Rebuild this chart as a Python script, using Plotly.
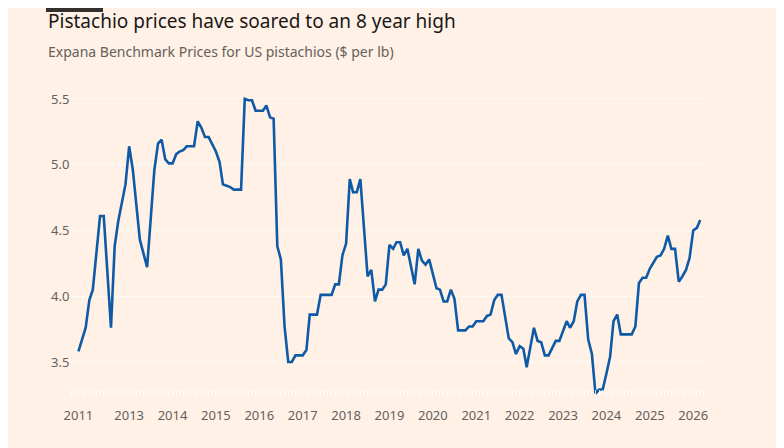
import plotly.graph_objects as go

months = [
    "2011-11", "2012-01", "2012-02", "2012-03", "2012-05", "2012-06", "2012-08", "2012-09", "2012-10", "2012-12",
    "2013-01", "2013-02", "2013-04", "2013-06", "2013-08", "2013-09", "2013-10", "2013-11", "2013-12",
    "2014-01", "2014-02", "2014-03", "2014-04", "2014-05", "2014-07", "2014-08", "2014-09", "2014-10", "2014-11", "2014-12",
    "2015-01", "2015-02", "2015-03", "2015-04", "2015-05", "2015-06", "2015-08", "2015-09", "2015-10", "2015-11", "2015-12",
    "2016-02", "2016-03", "2016-04", "2016-05", "2016-06", "2016-07", "2016-08", "2016-09", "2016-10", "2016-11",
    "2017-01", "2017-02", "2017-03", "2017-05", "2017-06", "2017-09", "2017-10", "2017-11", "2017-12",
    "2018-01", "2018-02", "2018-03", "2018-04", "2018-05", "2018-07", "2018-08", "2018-09", "2018-10", "2018-11", "2018-12",
    "2019-01", "2019-02", "2019-03", "2019-04", "2019-05", "2019-06", "2019-08", "2019-09", "2019-10", "2019-11", "2019-12",
    "2020-02", "2020-03", "2020-04", "2020-05", "2020-06", "2020-07", "2020-08", "2020-10", "2020-11", "2020-12",
    "2021-01", "2021-03", "2021-04", "2021-05", "2021-06", "2021-07", "2021-08", "2021-10", "2021-11", "2021-12",
    "2022-01", "2022-02", "2022-03", "2022-05", "2022-06", "2022-07", "2022-08", "2022-09", "2022-11", "2022-12",
    "2023-02", "2023-03", "2023-04", "2023-05", "2023-06", "2023-07", "2023-08", "2023-09", "2023-10", "2023-11", "2023-12",
    "2024-01", "2024-02", "2024-03", "2024-04", "2024-05", "2024-08", "2024-09", "2024-10", "2024-11", "2024-12",
    "2025-01", "2025-03", "2025-04", "2025-05", "2025-06", "2025-07", "2025-08", "2025-09", "2025-10", "2025-11", "2025-12",
    "2026-01", "2026-02", "2026-03",
]
prices = [
    3.58, 3.76, 3.97, 4.05, 4.61, 4.61, 3.76, 4.38, 4.57, 4.85,
    5.14, 4.96, 4.43, 4.22, 4.96, 5.16, 5.19, 5.04, 5.01,
    5.01, 5.08, 5.10, 5.11, 5.14, 5.14, 5.33, 5.28, 5.21, 5.21, 5.16,
    5.10, 5.02, 4.85, 4.84, 4.83, 4.81, 4.81, 5.50, 5.49, 5.49, 5.41,
    5.41, 5.45, 5.36, 5.35, 4.38, 4.28, 3.77, 3.50, 3.50, 3.55,
    3.55, 3.59, 3.86, 3.86, 4.01, 4.01, 4.09, 4.09, 4.31,
    4.40, 4.89, 4.79, 4.79, 4.89, 4.15, 4.20, 3.96, 4.05, 4.05, 4.09,
    4.39, 4.36, 4.41, 4.41, 4.31, 4.36, 4.09, 4.36, 4.27, 4.24, 4.28,
    4.06, 4.05, 3.96, 3.96, 4.05, 3.98, 3.74, 3.74, 3.77, 3.77,
    3.81, 3.81, 3.85, 3.86, 3.97, 4.01, 4.01, 3.68, 3.65, 3.56,
    3.62, 3.60, 3.46, 3.76, 3.66, 3.65, 3.55, 3.55, 3.66, 3.66,
    3.81, 3.76, 3.81, 3.96, 4.01, 4.01, 3.67, 3.56, 3.26, 3.29, 3.29,
    3.41, 3.54, 3.81, 3.86, 3.71, 3.71, 3.77, 4.10, 4.14, 4.14,
    4.21, 4.30, 4.31, 4.36, 4.46, 4.36, 4.36, 4.11, 4.15, 4.20, 4.29,
    4.50, 4.52, 4.58,
]

tick_dates = ["2011-11-01"] + [f"{y}-01-01" for y in range(2013, 2027)]
tick_labels = ["2011"] + [str(y) for y in range(2013, 2027)]
y_ticks = [3.5, 4.0, 4.5, 5.0, 5.5]
y_labels = ["3.5", "4.0", "4.5", "5.0", "5.5"]

BG = "#FFF1E5"
GREY = "#66605C"

fig = go.Figure()
fig.add_trace(go.Scatter(
    x=[m + "-01" for m in months], y=prices, mode="lines",
    line=dict(color="#0F5AA6", width=2.6), hoverinfo="skip", showlegend=False,
))

fig.update_layout(
    width=784, height=448,
    paper_bgcolor=BG, plot_bgcolor=BG,
    margin=dict(l=38, r=87, t=77, b=60),
    font=dict(family="Noto Sans, sans-serif", color=GREY, size=13),
    xaxis=dict(
        type="date", range=["2011-02-01", "2026-04-10"],
        tickvals=tick_dates, ticktext=tick_labels,
        showgrid=False, zeroline=False, showline=False,
        ticks="", ticklabelstandoff=10,
        tickfont=dict(size=13, color=GREY),
        minor=dict(dtick="M1", ticks="inside", ticklen=6, tickcolor="rgba(255,255,255,0.8)",
                   tick0="2011-11-01", showgrid=False),
    ),
    yaxis=dict(
        range=[3.241, 5.606], tickvals=y_ticks, ticktext=y_labels,
        showgrid=True, gridcolor="rgba(255,255,255,0.55)", gridwidth=1,
        zeroline=False, showline=False, ticks="",
        ticklabelposition="inside", ticklabelstandoff=2,
        tickfont=dict(size=13, color=GREY),
    ),
    shapes=[dict(type="rect", xref="paper", yref="paper", x0=0, x1=57 / 659,
                 y0=1 + 73 / 311, y1=1 + 77 / 311, fillcolor="#33302E", line=dict(width=0))],
    annotations=[
        dict(text="Pistachio prices have soared to an 8 year high", xref="paper", yref="paper",
             x=0, y=1 + (77 - 13) / 311, xanchor="left", yanchor="middle", showarrow=False,
             font=dict(size=19, color="#1A1817", family="Noto Sans, sans-serif")),
        dict(text="Expana Benchmark Prices for US pistachios ($ per lb)", xref="paper", yref="paper",
             x=0, y=1 + (77 - 44) / 311, xanchor="left", yanchor="middle", showarrow=False,
             font=dict(size=14, color=GREY, family="Noto Sans, sans-serif")),
    ],
)

fig.write_html("out.html")
